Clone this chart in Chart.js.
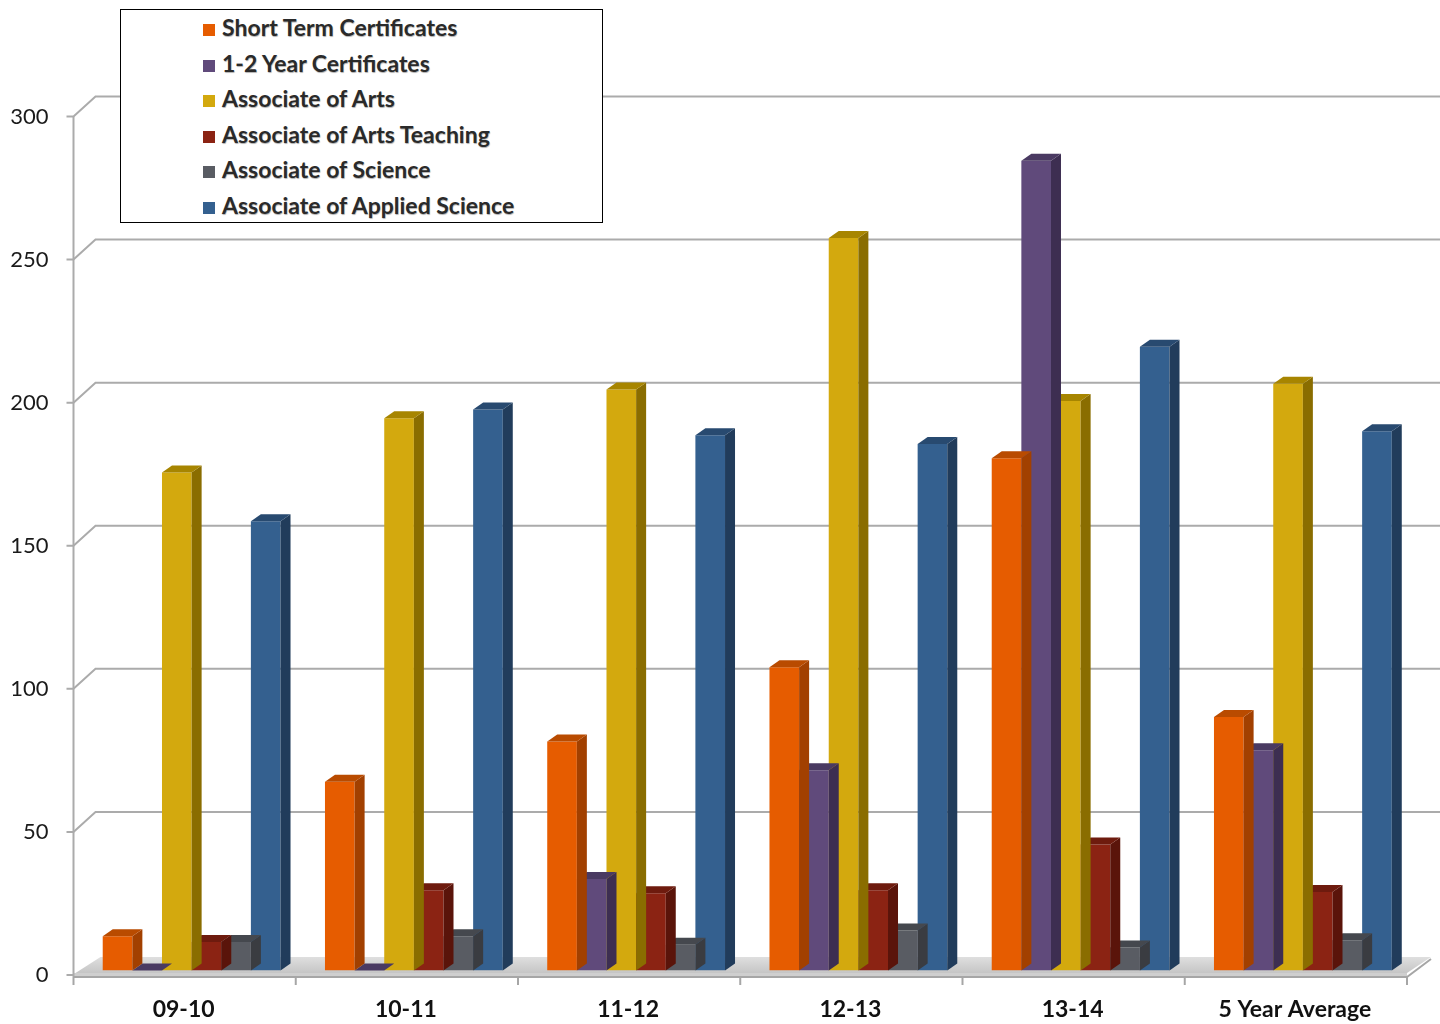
<!DOCTYPE html>
<html>
<head>
<meta charset="utf-8">
<script src="https://cdn.jsdelivr.net/npm/chart.js@4.4.0/dist/chart.umd.min.js"></script>
<style>
  body { margin: 0; background: #fff; }
  #wrap { position: relative; width: 1440px; height: 1024px; }
  #legend {
    position: absolute; left: 120px; top: 9px; width: 481px; height: 212px;
    border: 1.5px solid #000; background: #fff;
    font-family: Lato, "Open Sans", sans-serif; font-size: 23px; font-weight: bold; color: #2a2a2a;
  }
  .item { position: absolute; left: 82px; height: 24px; line-height: 24px; white-space: nowrap;
    text-shadow: 0.5px 0.5px 0.8px rgba(0,0,0,0.3); }
  .item span.box { display: inline-block; width: 12px; height: 12px; margin-right: 7px; vertical-align: 0px; }
</style>
</head>
<body>
<div id="wrap">
  <canvas id="myChart1" width="1440" height="1024"></canvas>
  <div id="legend"></div>
</div>
<script>
// datos
const categorias = ['09-10', '10-11', '11-12', '12-13', '13-14', '5 Year Average'];
const shortTerm   = [12, 66, 80, 106, 179, 88.6];
const oneTwoYear  = [0, 0, 32, 70, 283, 77];
const assocArts   = [174, 193, 203, 256, 199, 205];
const artsTeach   = [10, 28, 27, 28, 44, 27.4];
const assocSci    = [10, 12, 9, 14, 8, 10.6];
const appliedSci  = [157, 196, 187, 184, 218, 188.4];
const yTicks = [0, 50, 100, 150, 200, 250, 300];

const series = [
  { label: 'Short Term Certificates', data: shortTerm, color: '#E65C00', side: '#A24000', top: '#B94B00' },
  { label: '1-2 Year Certificates', data: oneTwoYear, color: '#604A7B', side: '#3D2E51', top: '#4A3A62' },
  { label: 'Associate of Arts', data: assocArts, color: '#D3A90E', side: '#8A6D00', top: '#A78500' },
  { label: 'Associate of Arts Teaching', data: artsTeach, color: '#8B2313', side: '#5A140A', top: '#6E1B0E' },
  { label: 'Associate of Science', data: assocSci, color: '#595C63', side: '#3A3C41', top: '#45484E' },
  { label: 'Associate of Applied Science', data: appliedSci, color: '#34608F', side: '#213C5B', top: '#284A70' }
];

const ctx = document.getElementById('myChart1');
const DX = 10, DY = -7;       // profundidad de las barras
const FX = -7, FY = 4.5;      // plano frontal respecto a las barras
const BX = 22, BY = -20;      // pared del fondo respecto al plano frontal

// piso, pared y ejes
const fondo = {
  id: 'fondo',
  beforeDatasetsDraw(chart) {
    const c = chart.ctx;
    const y = chart.scales.y;
    const left = chart.chartArea.left + FX;
    const right = chart.chartArea.right + FX;
    c.save();
    // lineas de la pared
    c.strokeStyle = '#ababab';
    c.lineWidth = 2;
    yTicks.forEach((v) => {
      if (v === 0) return;
      const yf = y.getPixelForValue(v) + FY;
      c.beginPath();
      c.moveTo(left - 7, yf);
      c.lineTo(left, yf);
      c.lineTo(left + BX, yf + BY);
      c.lineTo(1440, yf + BY);
      c.stroke();
    });
    // piso
    const y0 = y.getPixelForValue(0) + FY;
    const g = c.createLinearGradient(0, y0 + BY, 0, y0);
    g.addColorStop(0, '#e2e2e2');
    g.addColorStop(1, '#c2c2c2');
    c.fillStyle = g;
    c.beginPath();
    c.moveTo(left + 2, y0 - 2);
    c.lineTo(left + 2 + 25, y0 - 18);
    c.lineTo(right + 24, y0 - 18);
    c.lineTo(right, y0 - 2);
    c.closePath();
    c.fill();
    c.fillStyle = '#cfcfcf';
    c.fillRect(left, y0 - 2, right - left, 3);
    // eje vertical
    c.beginPath();
    c.moveTo(left, y.getPixelForValue(300) + FY);
    c.lineTo(left, y0 + 2);
    c.stroke();
    c.beginPath();
    c.moveTo(left - 7, y0);
    c.lineTo(left, y0);
    c.stroke();
    // eje horizontal
    c.strokeStyle = '#a6a6a6';
    c.beginPath();
    c.moveTo(left, y0 + 2);
    c.lineTo(right, y0 + 2);
    c.lineTo(right + 24, y0 - 16);
    c.stroke();
    const w = (right - left) / categorias.length;
    for (let i = 0; i <= categorias.length; i++) {
      c.beginPath();
      c.moveTo(left + w * i, y0 + 2);
      c.lineTo(left + w * i, y0 + 10);
      c.stroke();
    }
    c.restore();
  }
};

// caras laterales y superiores de cada barra
const barras3d = {
  id: 'barras3d',
  afterDatasetDraw(chart, args) {
    const c = chart.ctx;
    const s = series[args.index];
    const meta = args.meta;
    c.save();
    meta.data.forEach((bar) => {
      const p = bar.getProps(['x', 'y', 'base', 'width'], true);
      const l = p.x - p.width / 2, r = p.x + p.width / 2;
      c.fillStyle = s.side;
      c.beginPath();
      c.moveTo(r, p.y);
      c.lineTo(r + DX, p.y + DY);
      c.lineTo(r + DX, p.base + DY);
      c.lineTo(r, p.base);
      c.closePath();
      c.fill();
      c.fillStyle = s.top;
      c.beginPath();
      c.moveTo(l, p.y);
      c.lineTo(l + DX, p.y + DY);
      c.lineTo(r + DX, p.y + DY);
      c.lineTo(r, p.y);
      c.closePath();
      c.fill();
    });
    c.restore();
  }
};

new Chart(ctx, {
  type: 'bar',
  data: {
    labels: categorias,
    datasets: series.map((s) => ({
      label: s.label,
      data: s.data,
      backgroundColor: s.color,
      borderWidth: 0,
      categoryPercentage: 0.8,
      barPercentage: 1.0
    }))
  },
  options: {
    responsive: false,
    animation: false,
    layout: { padding: { top: 112, right: 26, left: 0, bottom: 0 } },
    plugins: {
      legend: { display: false },
      tooltip: { enabled: false }
    },
    scales: {
      x: {
        grid: { display: false, drawTicks: false },
        border: { display: false },
        ticks: {
          color: '#111',
          font: { family: 'Lato', size: 23, weight: 'bold' },
          padding: 25,
          labelOffset: -8,
          maxRotation: 0
        },
        afterFit: (sc) => { sc.height = 53.5; }
      },
      y: {
        min: 0,
        max: 300,
        grid: { display: false, drawTicks: false },
        border: { display: false },
        ticks: {
          stepSize: 50,
          color: '#1a1a1a',
          font: { family: 'Lato', size: 22 },
          padding: 32,
          labelOffset: 4.5
        },
        afterFit: (sc) => { sc.width = 80.5; }
      }
    }
  },
  plugins: [fondo, barras3d]
});

// leyenda
const leg = document.getElementById('legend');
series.forEach((s, i) => {
  const d = document.createElement('div');
  d.className = 'item';
  d.style.top = (5 + i * 35.6) + 'px';
  d.innerHTML = '<span class="box" style="background:' + s.color + '"></span>' + s.label;
  leg.appendChild(d);
});
</script>
</body>
</html>
